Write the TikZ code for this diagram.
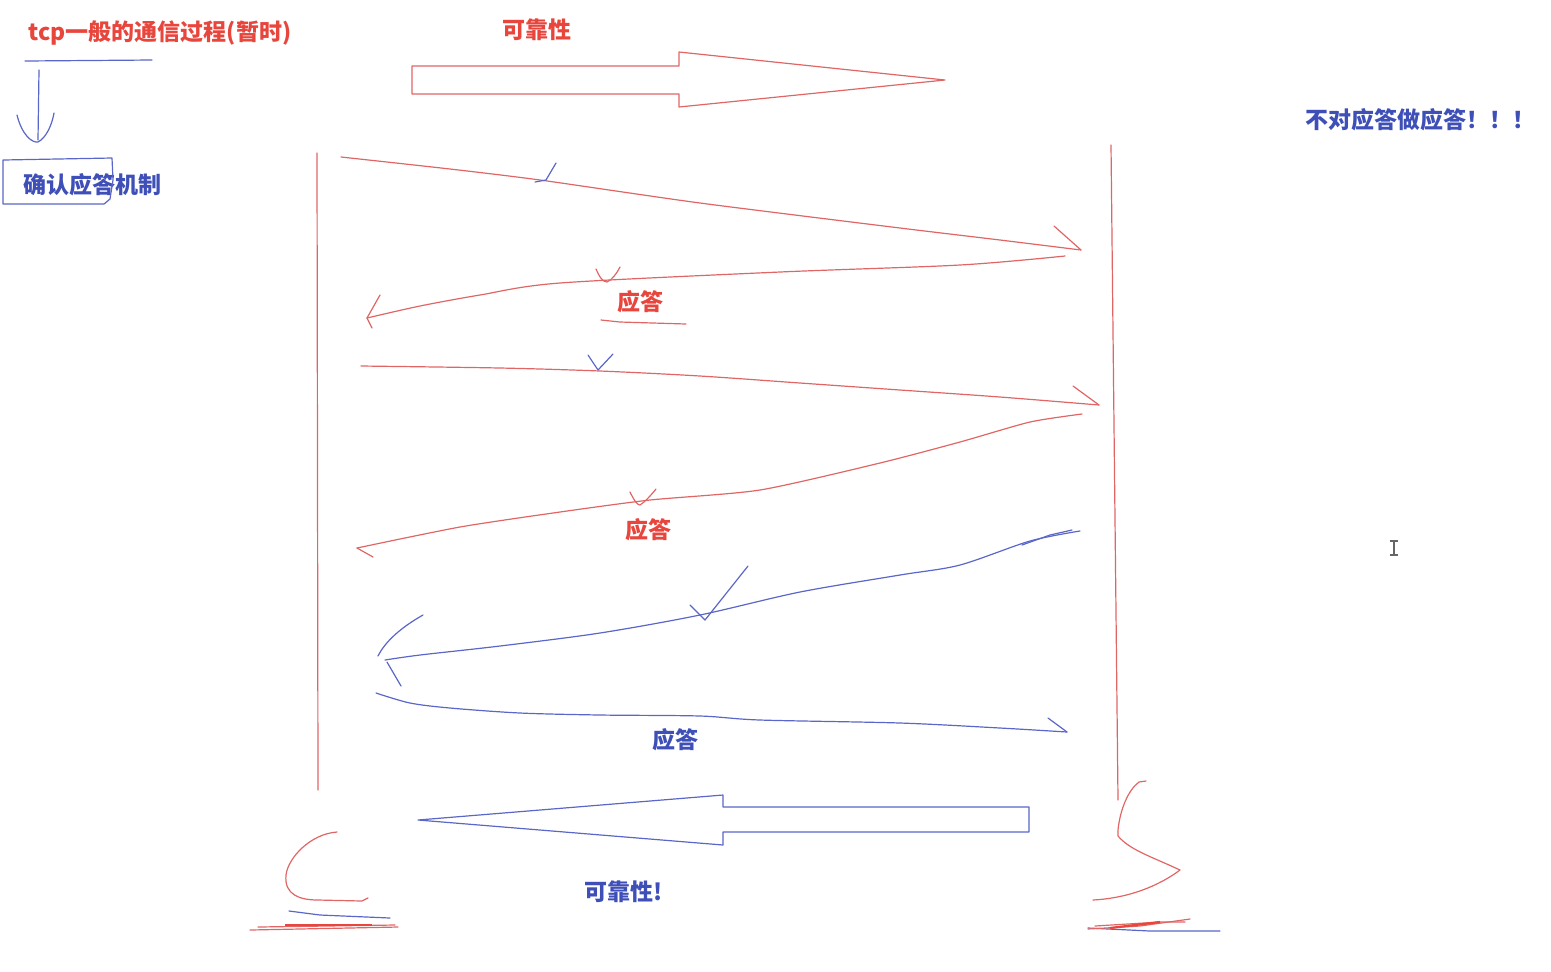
\documentclass[tikz,border=0pt]{standalone}
\usepackage{fontspec}
\setmainfont{Noto Sans CJK SC}
\definecolor{txtred}{HTML}{E8453C}
\definecolor{txtblue}{HTML}{3F4FB8}
\definecolor{lnred}{HTML}{E06666}
\definecolor{lnblue}{HTML}{5A66C8}
\tikzset{
  rl/.style={draw=lnred, line width=0.6pt, line cap=round, line join=round},
  bl/.style={draw=lnblue, line width=0.6pt, line cap=round, line join=round},
  rtxt/.style={text=txtred, font=\fontsize{11.5}{14}\selectfont\bfseries, inner sep=0pt},
  btxt/.style={text=txtblue, font=\fontsize{11.5}{14}\selectfont\bfseries, inner sep=0pt},
}
\begin{document}
\begin{tikzpicture}[x=0.5pt,y=-0.5pt]
\useasboundingbox (0,0) rectangle (1551,971);
% titles
\node[rtxt] (title) at (160,33) {tcp一般的通信过程(暂时)};
\draw[bl] (25,61) -- (152,60);
\draw[bl] (39,70) -- (38,140);
\draw[bl] (17,115) .. controls (22,135) and (32,143) .. (38,142) .. controls (46,138) and (52,125) .. (54,113);
\node[btxt] (ack) at (92,185) {确认应答机制};
\draw[bl] (3,204) -- (3,160) -- (112,158) -- (113,180) -- (110,199) -- (104,204) -- cycle;
\node[rtxt] (rel) at (537,30) {可靠性};
\node[btxt] (noack) at (1420,120) {不对应答做应答！！！};
% vertical lines
\coordinate (lt) at (317,153); \coordinate (lb) at (318,790);
\coordinate (rt) at (1111,145); \coordinate (rb) at (1118,800);
\draw[rl] (lt) -- (lb);
\draw[rl] (rt) -- (rb);
% top big arrow
\draw[rl] (412,66) -- (679,66) -- (679,52) -- (945,80) -- (679,107) -- (679,94) -- (412,94) -- cycle;
% arrow 1
\coordinate (a1s) at (341,157); \coordinate (a1e) at (1081,250);
\draw[rl] plot[smooth, tension=0.4] coordinates {(a1s) (450,169) (540,180) (700,203) (900,228) (1000,240) (a1e)};
\draw[rl] (1054,226) -- (a1e);
\draw[bl] (535,182) -- (546,180) -- (556,163);
% arrow 2
\coordinate (a2s) at (1065,256); \coordinate (a2e) at (367,318);
\draw[rl] plot[smooth, tension=0.5] coordinates {(a2s) (960,265) (780,272) (560,283) (480,295) (420,306) (a2e)};
\draw[rl] (380,295) -- (a2e) -- (372,328);
\draw[rl] (596,269) .. controls (600,278) and (603,282) .. (607,282) .. controls (612,280) and (617,273) .. (620,267);
\node[rtxt] (resp1) at (640,302) {应答};
\draw[rl] (601,320) -- (620,322) -- (686,324);
% arrow 3
\coordinate (a3s) at (361,366); \coordinate (a3e) at (1099,405);
\draw[rl] plot[smooth, tension=0.5] coordinates {(a3s) (500,368) (600,371) (700,376) (800,383) (900,390) (1000,397) (a3e)};
\draw[rl] (1073,386) -- (a3e);
\draw[bl] (588,355) -- (598,370) -- (613,354);
% arrow 4
\coordinate (a4s) at (1082,414); \coordinate (a4e) at (357,548);
\draw[rl] plot[smooth, tension=0.4] coordinates {(a4s) (1030,422) (960,442) (880,463) (760,490) (650,500) (560,512) (460,527) (a4e)};
\draw[rl] (a4e) -- (373,557);
\draw[rl] (630,492) .. controls (634,500) and (637,505) .. (640,505) .. controls (645,502) and (651,495) .. (656,489);
\node[rtxt] (resp2) at (648,530) {应答};
% arrow 5 (blue)
\coordinate (a5s) at (1080,531); \coordinate (a5e) at (385,660);
\draw[bl] plot[smooth, tension=0.5] coordinates {(a5s) (1030,541) (960,565) (900,575) (800,592) (700,615) (600,633) (500,646) (420,655) (a5e)};
\draw[bl] (1022,545) -- (1050,535) -- (1072,530);
\draw[bl] (423,615) .. controls (400,628) and (385,642) .. (378,656);
\draw[bl] (387,662) -- (401,686);
\draw[bl] (690,605) -- (705,620) -- (748,566);
% arrow 6 (blue)
\coordinate (a6s) at (376,693); \coordinate (a6e) at (1067,732);
\draw[bl] plot[smooth, tension=0.5] coordinates {(a6s) (410,703) (450,708) (520,713) (600,715) (700,716) (760,720) (900,723) (1000,728) (a6e)};
\draw[bl] (1048,718) -- (a6e);
\node[btxt] (resp3) at (675,740) {应答};
% bottom big arrow
\draw[bl] (1029,807) -- (723,807) -- (723,795) -- (418,820) -- (723,845) -- (723,832) -- (1029,832) -- cycle;
\node[btxt] (rel2) at (624,892) {可靠性!};
% left figure
\draw[rl] (337,832) .. controls (310,834) and (288,858) .. (286,875) .. controls (284,895) and (300,900) .. (318,900) -- (362,901) -- (368,898);
\draw[bl] (289,911) -- (320,915) -- (390,918);
\draw[rl] (250,930) -- (398,927);
\draw[rl] (258,927) -- (395,925);
\draw[draw=txtred, line width=1.2pt] (285,925) -- (372,925);
% right figure
\draw[rl] (1146,781) -- (1139,782) .. controls (1128,790) and (1120,810) .. (1118,830) -- (1118,836) .. controls (1130,850) and (1150,856) .. (1180,870) .. controls (1160,885) and (1130,898) .. (1093,900);
\draw[bl] (1088,928) -- (1150,931) -- (1220,931);
\draw[rl] (1088,929) -- (1140,926) -- (1190,919);
\draw[rl] (1095,926) -- (1160,922) -- (1185,922);
\draw[draw=txtred, line width=1.1pt] (1110,928) -- (1160,922);
% cursor
\draw[draw=gray!80!black, line width=0.7pt] (1394,541) -- (1394,555) (1390,541) -- (1398,541) (1390,555) -- (1398,555);
\end{tikzpicture}
\end{document}
